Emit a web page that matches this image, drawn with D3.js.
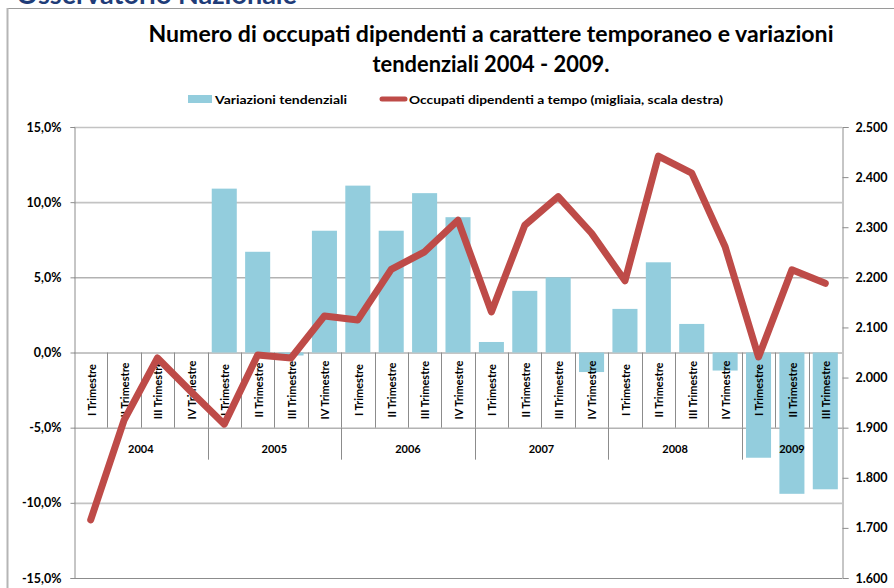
<!DOCTYPE html>
<html>
<head>
<meta charset="utf-8">
<script src="https://cdn.jsdelivr.net/npm/d3@7"></script>
<style>
  html, body { margin: 0; padding: 0; background: #fff; }
  svg { display: block; }
  text { font-family: Lato, "Open Sans", sans-serif; }
</style>
</head>
<body>
<svg id="chart" width="894" height="588"></svg>
<script>
// ---- data ----
const years = ["2004", "2005", "2006", "2007", "2008", "2009"];
const quarters = ["I Trimestre", "II Trimestre", "III Trimestre", "IV Trimestre"];
const quarterCounts = [4, 4, 4, 4, 4, 3];
const variazioni = [null, null, null, null,
  10.9, 6.7, -0.2, 8.1,
  11.1, 8.1, 10.6, 9.0,
  0.7, 4.1, 5.0, -1.3,
  2.9, 6.0, 1.9, -1.2,
  -7.0, -9.4, -9.1];
const occupati = [1716, 1915, 2039, 1972,
  1907, 2045, 2039, 2123,
  2115, 2216, 2251, 2314,
  2131, 2304, 2361, 2288,
  2193, 2442, 2408, 2261,
  2041, 2215, 2188];
const leftTicks = [-15, -10, -5, 0, 5, 10, 15];
const rightTicks = [1600, 1700, 1800, 1900, 2000, 2100, 2200, 2300, 2400, 2500];
const titleLines = ["Numero di occupati dipendenti a carattere temporaneo e variazioni", "tendenziali 2004 - 2009."];
const legendLabels = ["Variazioni tendenziali", "Occupati dipendenti a tempo (migliaia, scala destra)"];
const headerText = "Osservatorio Nazionale";

// build category keys
const cats = [];
years.forEach((y, yi) => {
  for (let q = 0; q < quarterCounts[yi]; q++) cats.push({ key: y + "-" + q, year: y, label: quarters[q] });
});
cats.forEach((c, i) => { c.v = variazioni[i]; c.o = occupati[i]; });

// ---- layout ----
const L = 74, R = 842, T = 127, B = 578;
const barColor = "#93CDDD", lineColor = "#BE4B48";
const svg = d3.select("#chart");

const locale = d3.formatLocale({ decimal: ",", thousands: ".", grouping: [3], currency: ["", "€"], minus: "-" });
const fmtL = v => locale.format(".1f")(v) + "%";
const fmtR = locale.format(",.0f");

const x = d3.scaleBand().domain(cats.map(c => c.key)).range([L, R]).paddingInner(0.25).paddingOuter(0.125);
const step = x.step();
const yL = d3.scaleLinear().domain([-15, 15]).range([B, T]);
const yR = d3.scaleLinear().domain([1600, 2500]).range([B, T]);

// header (cut off at top, as in the reference)
svg.append("text").attr("x", 297).attr("y", 4).attr("text-anchor", "end")
  .attr("font-family", "'Liberation Sans', Arial, sans-serif")
  .attr("font-weight", "bold").attr("font-size", 27).attr("fill", "#1F3C78").text(headerText);

// frame
svg.append("line").attr("x1", 7).attr("x2", 894).attr("y1", 8.5).attr("y2", 8.5).attr("stroke", "#9a9a9a").attr("stroke-width", 1);
svg.append("line").attr("x1", 7.5).attr("x2", 7.5).attr("y1", 8).attr("y2", 588).attr("stroke", "#b5b5b5").attr("stroke-width", 2);

// title
const tw = [685, 237];
titleLines.forEach((t, i) => {
  svg.append("text").attr("x", 491).attr("y", 42 + i * 30).attr("text-anchor", "middle")
    .attr("font-weight", "bold").attr("font-size", 22).attr("fill", "#000").text(t)
    .attr("textLength", tw[i]).attr("lengthAdjust", "spacingAndGlyphs");
});

// legend
svg.append("rect").attr("x", 188).attr("y", 95).attr("width", 24).attr("height", 8).attr("fill", barColor);
svg.append("text").attr("x", 215).attr("y", 103.5).attr("font-weight", "bold").attr("font-size", 12).text(legendLabels[0])
  .attr("textLength", 132).attr("lengthAdjust", "spacingAndGlyphs");
svg.append("line").attr("x1", 382).attr("x2", 405).attr("y1", 99).attr("y2", 99)
  .attr("stroke", lineColor).attr("stroke-width", 5).attr("stroke-linecap", "round");
svg.append("text").attr("x", 409).attr("y", 103.5).attr("font-weight", "bold").attr("font-size", 12).text(legendLabels[1])
  .attr("textLength", 314).attr("lengthAdjust", "spacingAndGlyphs");

// gridlines
const lightSet = [15, 10, -10];
svg.append("g").selectAll("line").data(leftTicks).join("line")
  .attr("x1", L).attr("x2", R)
  .attr("y1", d => yL(d) + 0.5).attr("y2", d => yL(d) + 0.5)
  .attr("stroke", d => lightSet.includes(d) ? "#c3c3c3" : "#8c8c8c")
  .attr("stroke-width", d => lightSet.includes(d) ? 1.6 : 1);

// bars
svg.append("g").selectAll("rect").data(cats.filter(c => c.v !== null)).join("rect")
  .attr("x", d => x(d.key)).attr("width", x.bandwidth())
  .attr("y", d => Math.min(yL(d.v), yL(0)))
  .attr("height", d => Math.abs(yL(d.v) - yL(0)))
  .attr("fill", barColor);

// left axis
const gL = svg.append("g").attr("transform", `translate(${L + 0.5},0)`)
  .call(d3.axisLeft(yL).tickValues(leftTicks).tickFormat(fmtL).tickSize(4).tickPadding(9));
gL.select(".domain").attr("stroke", "#8c8c8c");
gL.selectAll(".tick line").attr("stroke", "#8c8c8c");
gL.selectAll("text").attr("font-family", "Lato, sans-serif").attr("font-weight", "bold").attr("font-size", 12.5).attr("fill", "#000");

// right axis
const gR = svg.append("g").attr("transform", `translate(${R + 0.5},0)`)
  .call(d3.axisRight(yR).tickValues(rightTicks).tickFormat(fmtR).tickSize(6).tickPadding(7));
gR.select(".domain").attr("stroke", "#8c8c8c");
gR.selectAll(".tick line").attr("stroke", "#8c8c8c");
gR.selectAll("text").attr("font-family", "Lato, sans-serif").attr("font-weight", "bold").attr("font-size", 12.5).attr("fill", "#000");

// category axis (quarters) at 0 line
const y0 = yL(0), yM5 = yL(-5);
const gC = svg.append("g").attr("transform", `translate(0,${y0})`)
  .call(d3.axisBottom(x).tickSize(0).tickFormat(k => cats.find(c => c.key === k).label));
gC.select(".domain").remove();
gC.selectAll(".tick text")
  .attr("transform", `translate(1,${(yM5 - y0) / 2}) rotate(-90)`)
  .attr("y", 0).attr("dy", "0.35em").attr("text-anchor", "middle")
  .attr("font-family", "Lato, sans-serif").attr("font-weight", "bold").attr("font-size", 11).attr("fill", "#000");

// category separators
const sep = d3.range(1, cats.length).map(i => L + i * step);
svg.append("g").selectAll("line").data(sep).join("line")
  .attr("x1", d => Math.round(d) + 0.5).attr("x2", d => Math.round(d) + 0.5)
  .attr("y1", y0).attr("y2", yM5).attr("stroke", "#8c8c8c");

// year separators & labels
let acc = 0;
const yearInfo = years.map((y, i) => {
  const start = acc; acc += quarterCounts[i];
  return { year: y, x0: L + start * step, x1: L + acc * step };
});
svg.append("g").selectAll("line").data(yearInfo.slice(1).map(d => d.x0)).join("line")
  .attr("x1", d => Math.round(d) + 0.5).attr("x2", d => Math.round(d) + 0.5)
  .attr("y1", yM5).attr("y2", yM5 + 32).attr("stroke", "#8c8c8c");
svg.append("g").selectAll("text").data(yearInfo).join("text")
  .attr("x", d => (d.x0 + d.x1) / 2).attr("y", yM5 + 25).attr("text-anchor", "middle")
  .attr("font-weight", "bold").attr("font-size", 11).attr("fill", "#000").text(d => d.year);

// line
const line = d3.line().x(d => x(d.key) + x.bandwidth() / 2).y(d => yR(d.o));
svg.append("path").datum(cats).attr("d", line).attr("fill", "none")
  .attr("stroke", lineColor).attr("stroke-width", 7)
  .attr("stroke-linejoin", "round").attr("stroke-linecap", "round");
</script>
</body>
</html>
